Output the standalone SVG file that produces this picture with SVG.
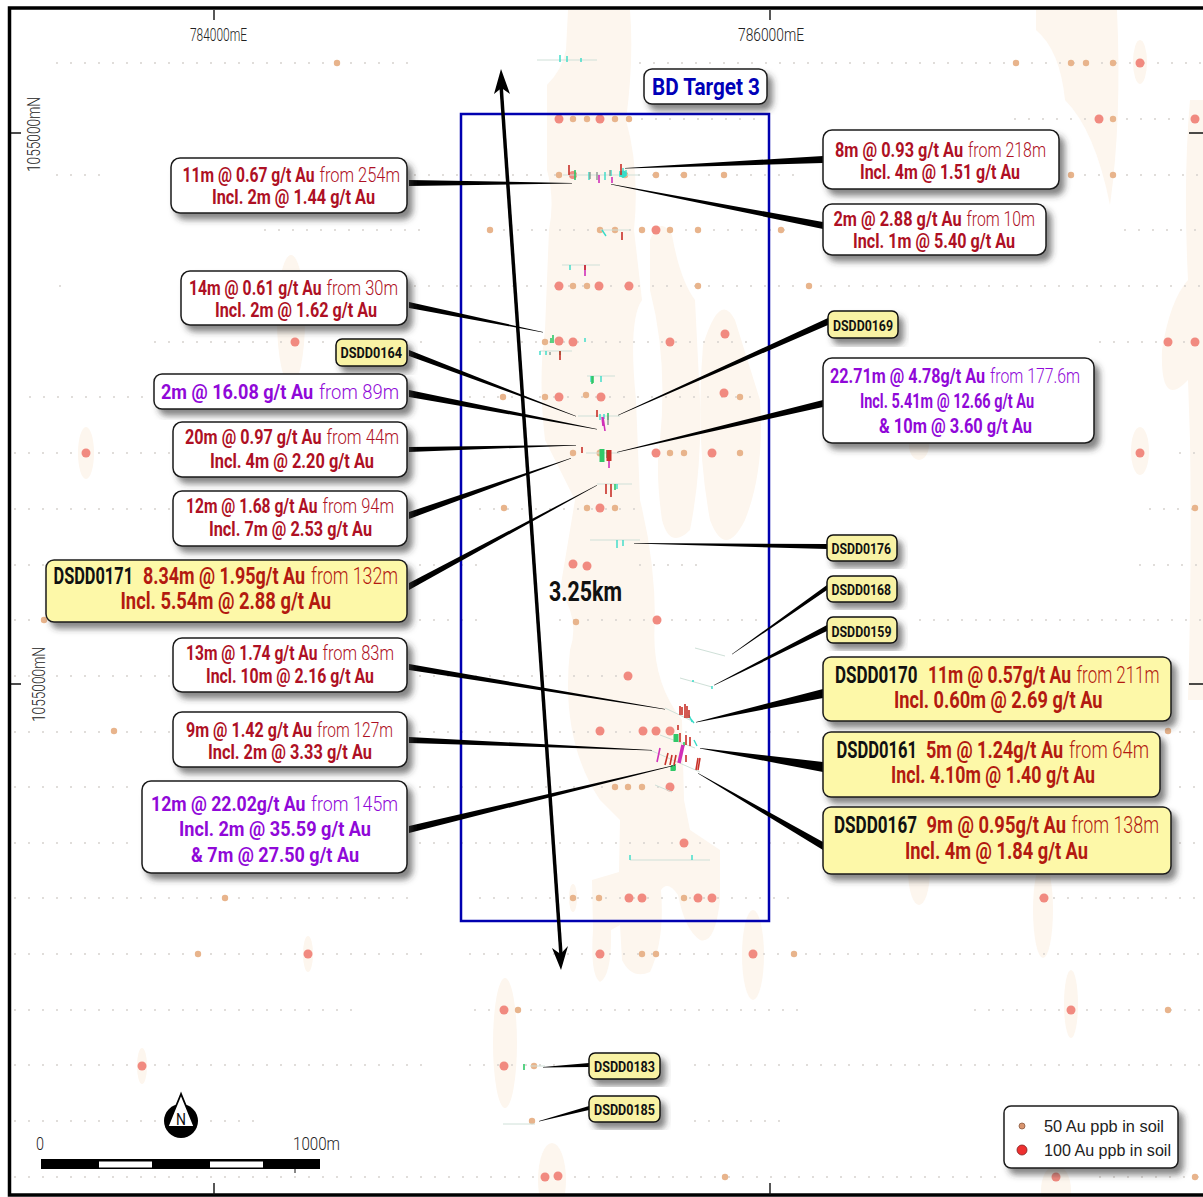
<svg xmlns="http://www.w3.org/2000/svg" width="1203" height="1197" viewBox="0 0 1203 1197">
<style>
text{font-family:Roboto,"Liberation Sans",sans-serif}
.box{fill:#fff;stroke:#1a1a1a;stroke-width:1.5;filter:url(#sh)}
.y{fill:#fdf8a8}
.tag{fill:#f8f2a4;stroke:#111;stroke-width:1.5;filter:url(#sh)}
.r{fill:#ae1024;font-size:20.5px;font-weight:700}
.p{fill:#9008d8;font-size:21px;font-weight:700}
.q{fill:#b31a10;font-size:23px;font-weight:700}
.l{font-weight:300}
.k{fill:#111}
.t{fill:#111;font-size:15.5px;font-weight:700}
.ax{fill:#222;font-size:19px;font-weight:300}
.blob{fill:#fdf6ee}
.o{fill:#e8b48c}
.d{fill:#f18a80}
.sd{fill:none;stroke:#d6d2ce;stroke-width:2;stroke-linecap:round;stroke-dasharray:0 14}
.lead{fill:#000}
.b{fill:none;stroke:#cfe0d8;stroke-width:1}
.c{stroke:#38dcc8;stroke-width:1.4;fill:none}
.g{stroke:#30c868;stroke-width:1.6;fill:none}
.m{stroke:#d030b8;stroke-width:1.6;fill:none}
.e{stroke:#c83028;stroke-width:1.6;fill:none}
.w{stroke:#8a9a90;stroke-width:1.4;fill:none}
</style>
<defs>
<filter id="sh" x="-10%" y="-20%" width="125%" height="150%"><feDropShadow dx="5" dy="6" stdDeviation="3" flood-color="#333" flood-opacity=".6"/></filter>
</defs>
<rect width="1203" height="1197" fill="#fff"/>
<g id="map">
<path class="blob" d="M568 10H630Q634 60 626 120Q640 170 634 230L642 300Q628 320 636 400L640 500Q655 560 655 620Q650 680 682 720L684 800L690 830L720 850V900Q715 945 700 940Q685 930 678 895Q668 880 661 890Q665 940 650 972Q632 980 622 960L620 925L611 930Q612 975 600 982Q590 975 593 930L592 880L619 872L620 820L600 800Q560 740 570 650Q580 620 560 590L575 500L545 440Q538 380 545 330L549 230Q555 200 547 170L547 85Q562 70 566 50Z"/>
<path class="blob" d="M650 240Q660 215 672 235Q680 280 695 300L700 400Q702 470 690 530Q670 550 662 520Q655 470 660 440Q668 360 650 290Z"/>
<path class="blob" d="M703 345Q720 290 735 320L760 400Q765 470 745 520Q725 560 710 520Q695 440 703 345Z"/>
<path class="blob" d="M1036 10H1117Q1122 120 1110 205Q1095 130 1065 100Q1060 50 1036 30Z"/>
<path class="blob" d="M1190 100H1203V700H1188Q1192 560 1190 440L1188 380Q1160 410 1162 350Q1170 300 1188 280Q1183 180 1190 100Z"/>
<ellipse class="blob" cx="1140" cy="62" rx="7" ry="22"/><ellipse class="blob" cx="1140" cy="451" rx="9" ry="24"/>
<ellipse class="blob" cx="86" cy="453" rx="8" ry="26"/><ellipse class="blob" cx="291" cy="320" rx="14" ry="65"/>
<ellipse class="blob" cx="505" cy="1043" rx="12" ry="65"/><ellipse class="blob" cx="552" cy="1180" rx="14" ry="37"/>
<ellipse class="blob" cx="308" cy="954" rx="5" ry="18"/><ellipse class="blob" cx="142" cy="1066" rx="5" ry="18"/>
<ellipse class="blob" cx="1043" cy="910" rx="10" ry="48"/><ellipse class="blob" cx="1071" cy="1004" rx="7" ry="34"/>
<ellipse class="blob" cx="753" cy="955" rx="11" ry="45"/><ellipse class="blob" cx="573" cy="898" rx="4" ry="14"/>
<ellipse class="blob" cx="1056" cy="1190" rx="15" ry="25"/><ellipse class="blob" cx="919" cy="870" rx="11" ry="35"/><ellipse class="blob" cx="919" cy="445" rx="10" ry="15"/>
<path class="sd" d="M57 63H420M640 63H1203M1015 119H1203M600 119H760M57 175H110M415 175H560M625 175H800M1071 175H1203M265 230H430M490 230H790M1125 230H1203M60 286H62M415 286H1203M155 342H430M480 342H760M1100 342H1203M30 397H150M470 397H760M15 453H175M1180 453H1203M15 509H175M480 509H640M1150 509H1203M15 565H45M420 565H480M640 565H700M1140 565H1203M15 620H46M420 620H480M560 620H760M920 620H1203M15 676H170M420 676H640M15 732H170M420 732H800M1180 732H1203M15 787H140M420 787H710M1180 787H1203M15 843H140M420 843H800M1180 843H1203M15 898H420M480 898H800M1040 898H1203M15 954H430M470 954H1203M15 1010H365M475 1010H800M975 1010H1203M15 1065H430M470 1065H560M695 1065H1203M15 1121H260M695 1121H785M15 1177H1000M1100 1177H1203"/>
<g class="o"><circle cx="337" cy="63" r="3.2"/><circle cx="1016" cy="63" r="3.2"/><circle cx="1071" cy="63" r="3.2"/><circle cx="1086" cy="63" r="3.2"/><circle cx="1113" cy="63" r="3.2"/>
<circle cx="573" cy="119" r="3.2"/><circle cx="587" cy="119" r="3.2"/><circle cx="615" cy="119" r="3.2"/><circle cx="629" cy="119" r="3.2"/><circle cx="1113" cy="119" r="3.2"/>
<circle cx="559" cy="175" r="3.2"/><circle cx="625" cy="175" r="3.2"/><circle cx="656" cy="175" r="3.2"/><circle cx="684" cy="175" r="3.2"/><circle cx="724" cy="175" r="3.2"/><circle cx="1071" cy="175" r="3.2"/><circle cx="1113" cy="175" r="3.2"/>
<circle cx="490" cy="230" r="3.2"/><circle cx="600" cy="230" r="3.2"/><circle cx="615" cy="230" r="3.2"/><circle cx="642" cy="230" r="3.2"/><circle cx="670" cy="230" r="3.2"/><circle cx="698" cy="230" r="3.2"/><circle cx="781" cy="230" r="3.2"/>
<circle cx="573" cy="286" r="3.2"/><circle cx="587" cy="286" r="3.2"/><circle cx="698" cy="286" r="3.2"/><circle cx="809" cy="286" r="3.2"/>
<circle cx="545" cy="342" r="3.2"/><circle cx="503" cy="397" r="3.2"/><circle cx="545" cy="397" r="3.2"/><circle cx="586" cy="395" r="3.2"/><circle cx="740" cy="397" r="3.2"/>
<circle cx="573" cy="453" r="3.2"/><circle cx="600" cy="453" r="3.5"/><circle cx="670" cy="453" r="3.2"/><circle cx="684" cy="453" r="3.2"/><circle cx="740" cy="453" r="3.2"/>
<circle cx="504" cy="508" r="3.2"/><circle cx="587" cy="508" r="3.2"/><circle cx="615" cy="508" r="3.2"/><circle cx="1195" cy="508" r="3.2"/>
<circle cx="44" cy="620" r="3.2"/><circle cx="576" cy="622" r="3.2"/><circle cx="114" cy="731" r="3.2"/><circle cx="1168" cy="731" r="3.2"/>
<circle cx="615" cy="787" r="3.2"/><circle cx="628" cy="787" r="3.2"/><circle cx="642" cy="787" r="3.2"/>
<circle cx="225" cy="898" r="3.2"/><circle cx="573" cy="898" r="3.2"/><circle cx="599" cy="898" r="3.2"/><circle cx="684" cy="898" r="3.2"/>
<circle cx="198" cy="954" r="3.2"/><circle cx="642" cy="954" r="3.2"/><circle cx="656" cy="954" r="3.2"/><circle cx="794" cy="954" r="3.2"/>
<circle cx="518" cy="1010" r="3.2"/><circle cx="1168" cy="1010" r="3.2"/><circle cx="534" cy="1066" r="3.2"/><circle cx="532" cy="1121" r="3.2"/><circle cx="725" cy="1177" r="3.2"/><circle cx="1195" cy="1177" r="3.2"/></g>
<g class="d"><circle cx="1140" cy="63" r="4.5"/><circle cx="559" cy="119" r="4.5"/><circle cx="600" cy="119" r="4.5"/><circle cx="1099" cy="119" r="4.5"/><circle cx="1195" cy="119" r="4.5"/>
<circle cx="573" cy="175" r="4"/><circle cx="656" cy="230" r="4.5"/><circle cx="559" cy="286" r="4.5"/><circle cx="599" cy="286" r="4.5"/><circle cx="629" cy="286" r="4.5"/>
<circle cx="295" cy="342" r="4.5"/><circle cx="559" cy="341" r="4.5"/><circle cx="573" cy="342" r="4.5"/><circle cx="670" cy="342" r="4.5"/><circle cx="725" cy="334" r="4.5"/><circle cx="1168" cy="342" r="4.5"/><circle cx="1195" cy="342" r="4.5"/>
<circle cx="559" cy="397" r="4.5"/><circle cx="601" cy="397" r="4.5"/><circle cx="724" cy="393" r="4.5"/><circle cx="86" cy="453" r="4.5"/><circle cx="656" cy="453" r="4.5"/><circle cx="712" cy="453" r="4.5"/><circle cx="1140" cy="453" r="4.5"/>
<circle cx="600" cy="508" r="4.5"/><circle cx="573" cy="564" r="4.5"/><circle cx="587" cy="566" r="4.5"/><circle cx="657" cy="620" r="4.5"/><circle cx="628" cy="676" r="4.5"/>
<circle cx="600" cy="731" r="4.5"/><circle cx="643" cy="731" r="4.5"/><circle cx="656" cy="731" r="4.5"/><circle cx="670" cy="731" r="4.5"/><circle cx="670" cy="787" r="4.5"/><circle cx="684" cy="843" r="4.5"/>
<circle cx="629" cy="898" r="4.5"/><circle cx="642" cy="898" r="4.5"/><circle cx="698" cy="898" r="4.5"/><circle cx="712" cy="898" r="4.5"/><circle cx="1044" cy="898" r="4.5"/>
<circle cx="308" cy="954" r="4.5"/><circle cx="600" cy="954" r="4.5"/><circle cx="753" cy="954" r="4.5"/><circle cx="504" cy="1010" r="4.5"/><circle cx="1071" cy="1010" r="4.5"/>
<circle cx="142" cy="1066" r="4.5"/><circle cx="504" cy="1066" r="4.5"/><circle cx="545" cy="1177" r="4.5"/><circle cx="558" cy="1176" r="4.5"/><circle cx="1056" cy="1177" r="4.5"/></g>
<g id="traces">
<path class="b" d="M537 60H597M563 175H640M600 230H630M562 265H600M540 351H572M587 376H615M578 416H620M586 453H620M597 484H632M590 540H640M695 648L725 656M680 678L712 687M630 860H710M503 1124H535M530 1066H545M665 708L690 720M660 735L695 748M650 750L700 772M655 785L672 792"/>
<path class="c" d="M560 55V62M567 56V62M581 58V62M589 172V180M605 172V180M611 170V176M623 168V178M620 171V177M626 170V176M602 230L606 236M570 265V270M540 351V355M546 351V355M591 376V382M601 376V382M600 414V420M604 414V419M617 540V548M623 540V546M617 484V489M712 686V689M692 681H694M689 715L692 722M690 718L694 723M630 855V860M692 855V860M585 338V342M694 740L697 746"/>
<circle cx="623" cy="174" r="3.5" fill="#38dcc8"/>
<path class="g" d="M553 335V343M551 338V343M575 170V180M608 413V420M607 450V458M615 484V490M560 351V355M592 376V384M593 376V383M672 765V770M675 764V770M524 1064V1070M684 742V746"/>
<path d="M602 449V462M676 734V742M673 766V771" stroke="#30c868" stroke-width="5" fill="none"/>
<path class="m" d="M599 175V183M612 177V183M585 265V276M603 417L605 431M602 417L603 426M609 458V468M660 748L657 762"/>
<path d="M683 745L679 763" stroke="#d030b8" stroke-width="3.5" fill="none"/>
<path class="e" d="M569 165V175M621 164V175M622 232V240M597 410V417M560 351V360M582 447V453M606 484V494M611 484V497M680 706V715M682 707V715M685 704V718M687 706V718M689 710V718M678 725V730M680 733V742M686 735V745M690 737V746M668 753L665 765M672 755L670 765M676 755L674 765M686 755V762M698 758L696 770M700 758L698 770M585 265V270"/>
<path d="M609 450V461" stroke="#c83028" stroke-width="5" fill="none"/>
<path class="w" d="M590 172V179M597 172V180M610 170V176M608 416V425M550 352V355"/>
</g>
<rect x="461" y="114" width="308" height="807" fill="none" stroke="#0000b0" stroke-width="2.5"/>
<g id="frame">
<rect x="9.5" y="8" width="1300" height="1187" fill="none" stroke="#000" stroke-width="3.5"/>
<path d="M214 10V20M770 10V20M214 1183V1195M770 1183V1195M11 133H21M11 684H21M1189 133H1203M1189 684H1203" stroke="#111" stroke-width="1.4"/>
<text class="ax" x="190" y="41" textLength="57" lengthAdjust="spacingAndGlyphs">784000mE</text>
<text class="ax" x="738" y="41" textLength="66" lengthAdjust="spacingAndGlyphs">786000mE</text>
<text class="ax" transform="translate(40 172) rotate(-90)" textLength="75" lengthAdjust="spacingAndGlyphs">1055000mN</text>
<text class="ax" transform="translate(45 722) rotate(-90)" textLength="75" lengthAdjust="spacingAndGlyphs">1055000mN</text>
</g>
</g>
<g id="connectors">
<polygon class="lead" points="409,180 409,186 572,183.5 572,183"/>
<polygon class="lead" points="823,156 823,163 625,168.5 625,168"/>
<polygon class="lead" points="823,222 823,229 611,184.5 611,184"/>
<polygon class="lead" points="409,302 409,308 543,332.5 543,332"/>
<polygon class="lead" points="409,350 409,356 576,416.5 576,416"/>
<polygon class="lead" points="409,390 409,397 597,429.5 597,429"/>
<polygon class="lead" points="409,447 409,452 576,445.5 576,445"/>
<polygon class="lead" points="409,512 409,519 571,458.5 571,458"/>
<polygon class="lead" points="409,583 409,590 597,485.5 597,485"/>
<polygon class="lead" points="409,664 409,670 665,709.5 665,709"/>
<polygon class="lead" points="409,737 409,743 652,750.5 652,750"/>
<polygon class="lead" points="409,826 409,833 675,765.5 675,765"/>
<polygon class="lead" points="828,318 828,325 618,415.5 618,415"/>
<polygon class="lead" points="823,400 823,407 617,452.5 617,452"/>
<polygon class="lead" points="827,544 827,549 634,543.5 634,543"/>
<polygon class="lead" points="827,585 827,590 732,654.5 732,654"/>
<polygon class="lead" points="827,625 827,631 714,685.5 714,685"/>
<polygon class="lead" points="823,689 823,698 696,722.5 696,722"/>
<polygon class="lead" points="823,762 823,772 700,748.5 700,748"/>
<polygon class="lead" points="823,842 823,850 698,773.5 698,773"/>
<polygon class="lead" points="589,1063 589,1067 543,1067.5 543,1067"/>
<polygon class="lead" points="589,1106 589,1110 539,1121.5 539,1121"/>
</g>
<g id="span-arrow">
<path d="M501 85L561 955" stroke="#000" stroke-width="3.5" fill="none"/>
<polygon points="501,69 510,94 501.5,88 494,94"/>
<polygon points="561,970 552,948 560.5,954 568,946"/>
<text x="549" y="601" textLength="73" lengthAdjust="spacingAndGlyphs" font-size="28" font-weight="700" fill="#111">3.25km</text>
</g>
<g id="target"><rect class="box" x="644" y="69" width="123" height="35" rx="8"/><text x="652" y="95" textLength="108" lengthAdjust="spacingAndGlyphs" font-size="24" font-weight="700" fill="#0000b8">BD Target 3</text></g>
<g id="n-11m"><rect class="box" x="171" y="158" width="236" height="55" rx="9"/><text class="r" transform="translate(182.5 182) scale(.75 1)" textLength="176" lengthAdjust="spacingAndGlyphs">11m @ 0.67 g/t Au</text><text class="r l" transform="translate(319.5 182) scale(.85 1)" textLength="94.7" lengthAdjust="spacingAndGlyphs">from 254m</text><text class="r" x="212" y="204" textLength="163" lengthAdjust="spacingAndGlyphs">Incl. 2m @ 1.44 g/t Au</text></g>
<g id="n-14m"><rect class="box" x="181" y="271" width="226" height="54" rx="9"/><text class="r" transform="translate(189 295) scale(.75 1)" textLength="176.7" lengthAdjust="spacingAndGlyphs">14m @ 0.61 g/t Au</text><text class="r l" transform="translate(326.5 295) scale(.85 1)" textLength="84.1" lengthAdjust="spacingAndGlyphs">from 30m</text><text class="r" x="215" y="317" textLength="162" lengthAdjust="spacingAndGlyphs">Incl. 2m @ 1.62 g/t Au</text></g>
<g id="n-0164"><rect class="tag" x="336" y="339" width="71" height="27" rx="6"/><text class="t" x="340.5" y="358" textLength="61.5" lengthAdjust="spacingAndGlyphs">DSDD0164</text></g>
<g id="n-2m"><rect class="box" x="154" y="374" width="253" height="35" rx="8"/><text class="p" transform="translate(161 399) scale(.75 1)" textLength="202.7" lengthAdjust="spacingAndGlyphs">2m @ 16.08 g/t Au</text><text class="p l" transform="translate(319 399) scale(.85 1)" textLength="94.1" lengthAdjust="spacingAndGlyphs">from 89m</text></g>
<g id="n-20m"><rect class="box" x="173" y="422" width="234" height="55" rx="9"/><text class="r" transform="translate(185 444) scale(.75 1)" textLength="182" lengthAdjust="spacingAndGlyphs">20m @ 0.97 g/t Au</text><text class="r l" transform="translate(326.5 444) scale(.85 1)" textLength="85.3" lengthAdjust="spacingAndGlyphs">from 44m</text><text class="r" x="210" y="468" textLength="164" lengthAdjust="spacingAndGlyphs">Incl. 4m @ 2.20 g/t Au</text></g>
<g id="n-12m"><rect class="box" x="173" y="491" width="234" height="55" rx="9"/><text class="r" transform="translate(186 513) scale(.75 1)" textLength="175.3" lengthAdjust="spacingAndGlyphs">12m @ 1.68 g/t Au</text><text class="r l" transform="translate(322.5 513) scale(.85 1)" textLength="84.1" lengthAdjust="spacingAndGlyphs">from 94m</text><text class="r" x="209" y="536" textLength="163" lengthAdjust="spacingAndGlyphs">Incl. 7m @ 2.53 g/t Au</text></g>
<g id="n-0171"><rect class="box y" x="46" y="560" width="361" height="62" rx="8"/><text class="q k" transform="translate(53.5 584) scale(.7 1)" textLength="113.6" lengthAdjust="spacingAndGlyphs">DSDD0171</text><text class="q" transform="translate(143 584) scale(.75 1)" textLength="216" lengthAdjust="spacingAndGlyphs">8.34m @ 1.95g/t Au</text><text class="q l" transform="translate(311 584) scale(.85 1)" textLength="102.4" lengthAdjust="spacingAndGlyphs">from 132m</text><text class="q" x="120.5" y="609" textLength="210.5" lengthAdjust="spacingAndGlyphs">Incl. 5.54m @ 2.88 g/t Au</text></g>
<g id="n-13m"><rect class="box" x="173" y="638" width="234" height="54" rx="9"/><text class="r" transform="translate(186 660) scale(.75 1)" textLength="175.3" lengthAdjust="spacingAndGlyphs">13m @ 1.74 g/t Au</text><text class="r l" transform="translate(322.5 660) scale(.85 1)" textLength="84.1" lengthAdjust="spacingAndGlyphs">from 83m</text><text class="r" x="206" y="683" textLength="168" lengthAdjust="spacingAndGlyphs">Incl. 10m @ 2.16 g/t Au</text></g>
<g id="n-9m"><rect class="box" x="173" y="712" width="234" height="55" rx="9"/><text class="r" transform="translate(186 737) scale(.75 1)" textLength="168" lengthAdjust="spacingAndGlyphs">9m @ 1.42 g/t Au</text><text class="r l" transform="translate(317 737) scale(.85 1)" textLength="89.4" lengthAdjust="spacingAndGlyphs">from 127m</text><text class="r" x="208" y="759" textLength="164" lengthAdjust="spacingAndGlyphs">Incl. 2m @ 3.33 g/t Au</text></g>
<g id="n-12m-22"><rect class="box" x="142" y="781" width="265" height="92" rx="9"/><text class="p" transform="translate(151 811) scale(.75 1)" textLength="206" lengthAdjust="spacingAndGlyphs">12m @ 22.02g/t Au</text><text class="p l" transform="translate(311 811) scale(.85 1)" textLength="102.4" lengthAdjust="spacingAndGlyphs">from 145m</text><text class="p" x="179" y="836" textLength="192" lengthAdjust="spacingAndGlyphs">Incl. 2m @ 35.59 g/t Au</text><text class="p" x="191" y="862" textLength="168" lengthAdjust="spacingAndGlyphs">&amp; 7m @ 27.50 g/t Au</text></g>
<g id="n-8m"><rect class="box" x="823" y="130" width="236" height="59" rx="9"/><text class="r" transform="translate(835 157) scale(.75 1)" textLength="170.7" lengthAdjust="spacingAndGlyphs">8m @ 0.93 g/t Au</text><text class="r l" transform="translate(968 157) scale(.85 1)" textLength="91.8" lengthAdjust="spacingAndGlyphs">from 218m</text><text class="r" x="860" y="179" textLength="160" lengthAdjust="spacingAndGlyphs">Incl. 4m @ 1.51 g/t Au</text></g>
<g id="n-2m-288"><rect class="box" x="823" y="204" width="223" height="51" rx="9"/><text class="r" transform="translate(833.5 226) scale(.75 1)" textLength="170.7" lengthAdjust="spacingAndGlyphs">2m @ 2.88 g/t Au</text><text class="r l" transform="translate(966.5 226) scale(.85 1)" textLength="80.6" lengthAdjust="spacingAndGlyphs">from 10m</text><text class="r" x="853" y="248" textLength="162" lengthAdjust="spacingAndGlyphs">Incl. 1m @ 5.40 g/t Au</text></g>
<g id="n-0169"><rect class="tag" x="828" y="311" width="70" height="27" rx="6"/><text class="t" x="833" y="331" textLength="60" lengthAdjust="spacingAndGlyphs">DSDD0169</text></g>
<g id="n-2271"><rect class="box" x="823" y="358" width="271" height="85" rx="9"/><text class="p" transform="translate(830 383) scale(.75 1)" textLength="206.7" lengthAdjust="spacingAndGlyphs">22.71m @ 4.78g/t Au</text><text class="p l" transform="translate(990 383) scale(.85 1)" textLength="105.9" lengthAdjust="spacingAndGlyphs">from 177.6m</text><text class="p" x="860" y="408" textLength="174" lengthAdjust="spacingAndGlyphs">Incl. 5.41m @ 12.66 g/t Au</text><text class="p" x="879" y="433" textLength="153" lengthAdjust="spacingAndGlyphs">&amp; 10m @ 3.60 g/t Au</text></g>
<g id="n-0176"><rect class="tag" x="827" y="535" width="70" height="26" rx="6"/><text class="t" x="831.5" y="554" textLength="59.5" lengthAdjust="spacingAndGlyphs">DSDD0176</text></g>
<g id="n-0168"><rect class="tag" x="827" y="576" width="70" height="26" rx="6"/><text class="t" x="831.5" y="595" textLength="59.5" lengthAdjust="spacingAndGlyphs">DSDD0168</text></g>
<g id="n-0159"><rect class="tag" x="827" y="617" width="70" height="26" rx="6"/><text class="t" x="831.5" y="637" textLength="60" lengthAdjust="spacingAndGlyphs">DSDD0159</text></g>
<g id="n-0170"><rect class="box y" x="823" y="657" width="348" height="64" rx="8"/><text class="q k" transform="translate(835 683) scale(.7 1)" textLength="117.9" lengthAdjust="spacingAndGlyphs">DSDD0170</text><text class="q" transform="translate(928 683) scale(.75 1)" textLength="190.7" lengthAdjust="spacingAndGlyphs">11m @ 0.57g/t Au</text><text class="q l" transform="translate(1076.5 683) scale(.85 1)" textLength="97.6" lengthAdjust="spacingAndGlyphs">from 211m</text><text class="q" x="894" y="708" textLength="208.5" lengthAdjust="spacingAndGlyphs">Incl. 0.60m @ 2.69 g/t Au</text></g>
<g id="n-0161"><rect class="box y" x="823" y="732" width="337" height="65" rx="8"/><text class="q k" transform="translate(836.5 758) scale(.7 1)" textLength="115" lengthAdjust="spacingAndGlyphs">DSDD0161</text><text class="q" transform="translate(926 758) scale(.75 1)" textLength="182.7" lengthAdjust="spacingAndGlyphs">5m @ 1.24g/t Au</text><text class="q l" transform="translate(1069 758) scale(.85 1)" textLength="94.1" lengthAdjust="spacingAndGlyphs">from 64m</text><text class="q" x="891" y="783" textLength="204" lengthAdjust="spacingAndGlyphs">Incl. 4.10m @ 1.40 g/t Au</text></g>
<g id="n-0167"><rect class="box y" x="823" y="807" width="348" height="67" rx="8"/><text class="q k" transform="translate(834 833) scale(.7 1)" textLength="118.6" lengthAdjust="spacingAndGlyphs">DSDD0167</text><text class="q" transform="translate(926.5 833) scale(.75 1)" textLength="186" lengthAdjust="spacingAndGlyphs">9m @ 0.95g/t Au</text><text class="q l" transform="translate(1071.5 833) scale(.85 1)" textLength="102.9" lengthAdjust="spacingAndGlyphs">from 138m</text><text class="q" x="905" y="859" textLength="183" lengthAdjust="spacingAndGlyphs">Incl. 4m @ 1.84 g/t Au</text></g>
<g id="n-0183"><rect class="tag" x="589" y="1053" width="71" height="26" rx="6"/><text class="t" x="594" y="1072" textLength="61" lengthAdjust="spacingAndGlyphs">DSDD0183</text></g>
<g id="n-0185"><rect class="tag" x="589" y="1096" width="71" height="26" rx="6"/><text class="t" x="594" y="1115" textLength="61" lengthAdjust="spacingAndGlyphs">DSDD0185</text></g>
<g id="north">
<circle cx="181" cy="1121" r="17" fill="#000"/>
<polygon points="181,1094 167.5,1127 194.5,1127" fill="#fff" stroke="#000" stroke-width="1.8"/>
<text x="176" y="1124.5" font-size="17" fill="#111" textLength="10" lengthAdjust="spacingAndGlyphs">N</text>
</g>
<g id="scale">
<rect x="41" y="1159" width="279" height="10" fill="#000"/>
<rect x="99" y="1161.5" width="53" height="6" fill="#fff"/><rect x="210" y="1161.5" width="53" height="6" fill="#fff"/>
<path d="M295 1169V1173" stroke="#111"/>
<text class="ax" x="36" y="1150" font-size="20" textLength="8" lengthAdjust="spacingAndGlyphs">0</text>
<text class="ax" x="293" y="1150" font-size="20" textLength="47" lengthAdjust="spacingAndGlyphs">1000m</text>
</g>
<g id="legend">
<rect class="box" x="1004" y="1106" width="174" height="62" rx="7"/>
<circle cx="1022" cy="1126" r="3" fill="#d8946e" stroke="#8a5a40" stroke-width=".8"/>
<circle cx="1022" cy="1150" r="5" fill="#ee3030" stroke="#802020" stroke-width=".8"/>
<text x="1044" y="1132" font-size="17" fill="#222" textLength="120" lengthAdjust="spacingAndGlyphs" style="font-family:'Liberation Sans',sans-serif">50 Au ppb in soil</text>
<text x="1044" y="1156" font-size="17" fill="#222" textLength="127" lengthAdjust="spacingAndGlyphs" style="font-family:'Liberation Sans',sans-serif">100 Au ppb in soil</text>
</g>
</svg>
